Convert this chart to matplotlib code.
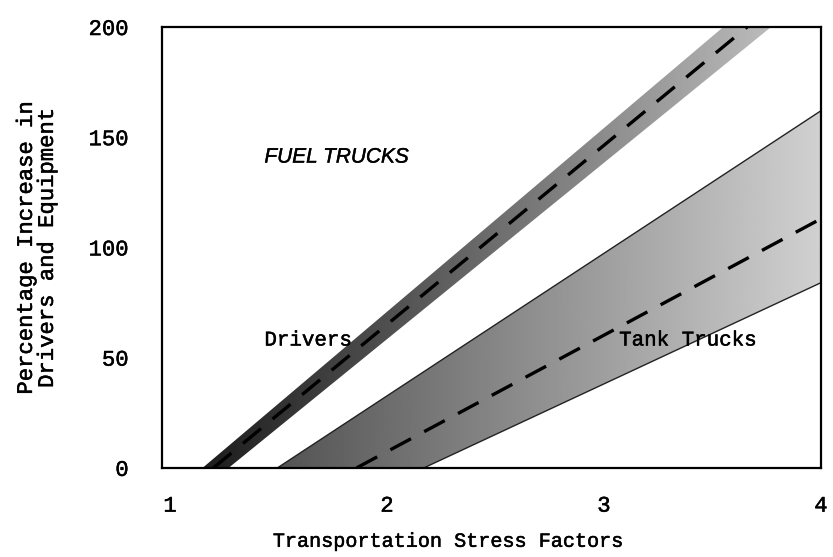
import numpy as np
import matplotlib
matplotlib.use("Agg")
import matplotlib.pyplot as plt
import matplotlib.patheffects as pe
from matplotlib.patches import Polygon

# Band edges: (stress factor, percentage increase)
fuel_left_x = [1.15, 3.55]
fuel_left_y = [0, 200]
fuel_right_x = [1.27, 3.77]
fuel_right_y = [0, 200]
fuel_mid_x = [1.20, 3.66]
fuel_mid_y = [0, 200]

tank_upper_x = [1.495, 4.0]
tank_upper_y = [0, 162]
tank_lower_x = [2.17, 4.0]
tank_lower_y = [0, 84]
tank_mid_x = [1.86, 4.0]
tank_mid_y = [0, 113]

x_ticks = [1, 2, 3, 4]
y_ticks = [0, 50, 100, 150, 200]

mono = "Liberation Mono"
# typewriter text in the scan is a bit heavier than Liberation Mono
ink = [pe.withStroke(linewidth=0.35, foreground="black")]

fig = plt.figure(figsize=(8.33, 5.57), dpi=100)
ax = fig.add_axes([0.1945, 0.16, 0.791, 0.7915])
ax.set_xlim(0.963, 4.0)
ax.set_ylim(0, 200)


def shaded_band(xs, ys, dark, light, x0, x1, edge=None):
    # grey band, darker at the low end, fading towards the top right
    poly = Polygon(list(zip(xs, ys)), closed=True, facecolor="none",
                   edgecolor="none")
    ax.add_patch(poly)
    ramp = np.linspace(dark, light, 256)[None, :]
    im = ax.imshow(ramp, cmap="gray", vmin=0, vmax=1, aspect="auto",
                   extent=[x0, x1, 0, 200], interpolation="bilinear",
                   zorder=1)
    im.set_clip_path(poly)
    if edge:
        ax.plot(xs[:2], ys[:2], color=edge, lw=1.0, zorder=2)
        ax.plot(xs[2:], ys[2:], color=edge, lw=1.0, zorder=2)


shaded_band(fuel_left_x + fuel_right_x[::-1], fuel_left_y + fuel_right_y[::-1],
            0.10, 0.74, 1.1, 3.8)
shaded_band(tank_upper_x + tank_lower_x[::-1], tank_upper_y + tank_lower_y[::-1],
            0.32, 0.82, 1.45, 4.0, edge="#222222")

ax.plot(fuel_mid_x, fuel_mid_y, color="black", lw=2.4, dashes=(7, 4.5), zorder=3)
ax.plot(tank_mid_x, tank_mid_y, color="black", lw=2.4, dashes=(7, 4.5), zorder=3)

ax.text(1.435, 141, "FUEL TRUCKS", fontsize=15, style="italic",
        family="Liberation Sans", va="center", ha="left",
        path_effects=[pe.withStroke(linewidth=0.3, foreground="black")])
ax.text(1.435, 58, "Drivers", fontsize=15, family=mono, va="center",
        ha="left", path_effects=ink)
ax.text(3.07, 58, "Tank Trucks", fontsize=15, family=mono, va="center",
        ha="left", zorder=4, path_effects=ink)

# spines and ticks
for s in ax.spines.values():
    s.set_linewidth(1.6)
ax.set_xticks(x_ticks)
ax.set_yticks(y_ticks)
ax.set_xticklabels([str(v) for v in x_ticks], family=mono, fontsize=16,
                   path_effects=ink)
ax.set_yticklabels([str(v) for v in y_ticks], family=mono, fontsize=16,
                   path_effects=ink)
ax.tick_params(which="major", length=0, pad=24)
ax.tick_params(axis="x", which="major", pad=20)
ax.set_xticks([2, 3], minor=True)
ax.set_yticks([50, 100, 150], minor=True)
ax.tick_params(which="minor", direction="inout", length=20, width=1.5,
               top=True, right=True)

ax.set_xlabel("Transportation Stress Factors", family=mono, fontsize=14.5,
              path_effects=ink)
ax.xaxis.set_label_coords(0.435, -0.145)
ax.set_ylabel("Percentage Increase in\nDrivers and Equipment", family=mono,
              fontsize=16, linespacing=1.0, path_effects=ink)
ax.yaxis.set_label_coords(-0.158, 0.5)

fig.savefig("out.png", dpi=100)
